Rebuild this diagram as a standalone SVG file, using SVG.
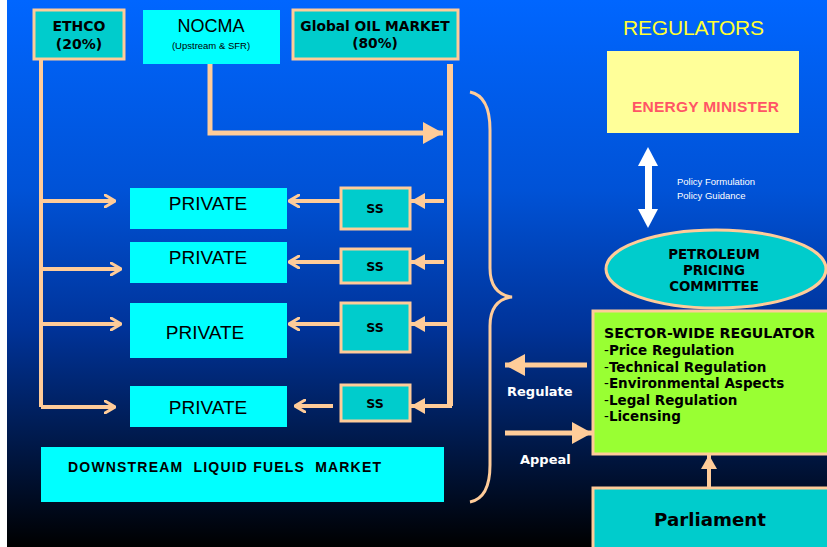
<svg xmlns="http://www.w3.org/2000/svg" width="827" height="547" viewBox="0 0 827 547">
<defs>
<linearGradient id="bg" x1="0" y1="0" x2="0" y2="1">
<stop offset="0" stop-color="#0066ff"/>
<stop offset="0.35" stop-color="#0052d6"/>
<stop offset="0.6" stop-color="#003399"/>
<stop offset="0.8" stop-color="#001a4d"/>
<stop offset="1" stop-color="#000000"/>
</linearGradient>
<marker id="open" viewBox="0 0 12 14" refX="11" refY="7" markerWidth="12" markerHeight="14" markerUnits="userSpaceOnUse" orient="auto">
<path d="M1,1 L11,7 L1,13" fill="none" stroke="#ffcc99" stroke-width="3" stroke-linecap="round"/>
</marker>
<marker id="fill" viewBox="0 0 14 16" refX="14" refY="8" markerWidth="14" markerHeight="16" markerUnits="userSpaceOnUse" orient="auto">
<path d="M0,0 L14,8 L0,16 Z" fill="#ffcc99"/>
</marker>
<marker id="big" viewBox="0 0 20 22" refX="20" refY="11" markerWidth="20" markerHeight="22" markerUnits="userSpaceOnUse" orient="auto">
<path d="M0,0 L20,11 L0,22 Z" fill="#ffcc99"/>
</marker>
</defs>
<style>
.pe{fill:#00cccc;stroke:#ffcc99;stroke-width:3}
.cy{fill:#00ffff}
.t{font-family:"DejaVu Sans",Verdana,sans-serif;font-weight:bold;fill:#000}
.a{font-family:"Liberation Sans",Arial,sans-serif;fill:#000}
.ln{fill:none;stroke:#ffcc99;stroke-width:4}
.wh{font-family:"DejaVu Sans",Verdana,sans-serif;font-weight:bold;fill:#fff;font-size:13px}
</style>
<rect x="0" y="0" width="827" height="547" fill="#ffffff"/>
<rect x="7" y="0" width="820" height="547" fill="url(#bg)"/>

<g id="connectors">
<path class="ln" d="M41,59 V407"/>
<path class="ln" d="M41,201 H115" marker-end="url(#open)"/>
<path class="ln" d="M41,269 H121" marker-end="url(#open)"/>
<path class="ln" d="M41,324 H121" marker-end="url(#open)"/>
<path class="ln" d="M41,407 H115" marker-end="url(#open)"/>
<path class="ln" d="M340,201 H289" marker-end="url(#open)"/>
<path class="ln" d="M340,262 H289" marker-end="url(#open)"/>
<path class="ln" d="M340,324 H289" marker-end="url(#open)"/>
<path class="ln" d="M333,406 H295" marker-end="url(#open)"/>
<path d="M450,64 V406" fill="none" stroke="#ffcc99" stroke-width="6"/>
<path class="ln" d="M444,201 H411" marker-end="url(#fill)"/>
<path class="ln" d="M444,262 H411" marker-end="url(#fill)"/>
<path class="ln" d="M450,324 H411" marker-end="url(#fill)"/>
<path class="ln" d="M452,406 H411" marker-end="url(#fill)"/>
<path d="M210,64 V133 H443" fill="none" stroke="#ffcc99" stroke-width="5" marker-end="url(#big)"/>
<path d="M470,92 Q490,96 490,130 V268 Q490,294 512,297 Q490,300 490,326 V465 Q490,498 470,502" fill="none" stroke="#ffcc99" stroke-width="3"/>
<path d="M587,365 H505" fill="none" stroke="#ffcc99" stroke-width="5" marker-end="url(#big)"/>
<path d="M505,433 H592" fill="none" stroke="#ffcc99" stroke-width="5" marker-end="url(#big)"/>
<path d="M709,487 V455" fill="none" stroke="#ffcc99" stroke-width="4" marker-end="url(#fill)"/>
<g fill="#ffffff">
<rect x="645" y="164" width="7" height="48"/>
<path d="M638,166 L648,147 L658,166 Z"/>
<path d="M638,209 L648,228 L658,209 Z"/>
</g>
</g>

<g id="ethco">
<rect class="pe" x="34" y="10" width="90" height="49"/>
<text class="t" font-size="14" text-anchor="middle" x="79" y="31">ETHCO</text>
<text class="t" font-size="14" text-anchor="middle" x="79" y="49">(20%)</text>
</g>
<g id="nocma">
<rect class="cy" x="143" y="10" width="137" height="54"/>
<text class="a" font-size="18" text-anchor="middle" x="211" y="32">NOCMA</text>
<text class="a" font-size="9.5" text-anchor="middle" x="211" y="49">(Upstream &amp; SFR)</text>
</g>
<g id="global">
<rect class="pe" x="293" y="10" width="165" height="49"/>
<text class="t" font-size="13.8" text-anchor="middle" x="375" y="31">Global OIL MARKET</text>
<text class="t" font-size="13.8" text-anchor="middle" x="375" y="48">(80%)</text>
</g>

<g id="private1"><rect class="cy" x="130" y="188" width="157" height="41"/><text class="a" font-size="19" text-anchor="middle" x="208" y="210">PRIVATE</text></g>
<g id="private2"><rect class="cy" x="130" y="242" width="157" height="41"/><text class="a" font-size="19" text-anchor="middle" x="208" y="264">PRIVATE</text></g>
<g id="private3"><rect class="cy" x="130" y="303" width="157" height="55"/><text class="a" font-size="19" text-anchor="middle" x="205" y="339">PRIVATE</text></g>
<g id="private4"><rect class="cy" x="130" y="386" width="157" height="41"/><text class="a" font-size="19" text-anchor="middle" x="208" y="414">PRIVATE</text></g>

<g id="ss1"><rect class="pe" x="341" y="188" width="69" height="41"/><text class="t" font-size="12.5" text-anchor="middle" x="375" y="213">SS</text></g>
<g id="ss2"><rect class="pe" x="341" y="249" width="69" height="34"/><text class="t" font-size="12.5" text-anchor="middle" x="375" y="271">SS</text></g>
<g id="ss3"><rect class="pe" x="341" y="303" width="69" height="49"/><text class="t" font-size="12.5" text-anchor="middle" x="375" y="332">SS</text></g>
<g id="ss4"><rect class="pe" x="341" y="385" width="69" height="36"/><text class="t" font-size="12.5" text-anchor="middle" x="375" y="408">SS</text></g>

<g id="downstream">
<rect class="cy" x="41" y="447" width="403" height="55"/>
<text font-family="Liberation Sans,Arial,sans-serif" font-weight="bold" font-size="14" x="68" y="472" textLength="313" style="white-space:pre">DOWNSTREAM  LIQUID FUELS  MARKET</text>
</g>

<g id="regulators-title">
<text x="623" y="35" font-family="'Liberation Sans',Arial,sans-serif" font-size="21" fill="#ffff33" textLength="141">REGULATORS</text>
</g>
<g id="energy-minister">
<rect x="607" y="51" width="192" height="82" fill="#ffff99"/>
<text x="632" y="112" font-family="'Liberation Sans',Arial,sans-serif" font-weight="bold" font-size="15.5" fill="#ff5566" textLength="147">ENERGY MINISTER</text>
</g>
<g id="policy-label">
<text x="677" y="185" font-family="'Liberation Sans',Arial,sans-serif" font-size="9.5" fill="#ffffff">Policy Formulation</text>
<text x="677" y="199" font-family="'Liberation Sans',Arial,sans-serif" font-size="9.5" fill="#ffffff">Policy Guidance</text>
</g>
<g id="ppc">
<ellipse class="pe" cx="716" cy="269" rx="110" ry="39"/>
<text class="t" font-size="13.4" text-anchor="middle" x="714" y="259">PETROLEUM</text>
<text class="t" font-size="13.4" text-anchor="middle" x="714" y="275">PRICING</text>
<text class="t" font-size="13.4" text-anchor="middle" x="714" y="291">COMMITTEE</text>
</g>
<g id="sector-regulator">
<rect x="593" y="311" width="240" height="143" fill="#99ff33" stroke="#ffcc99" stroke-width="3"/>
<text class="t" font-size="14.2" x="604" y="338">SECTOR-WIDE REGULATOR</text>
<text class="t" font-size="13.5" x="604" y="355"><tspan font-weight="normal">-</tspan>Price Regulation</text>
<text class="t" font-size="13.5" x="604" y="372"><tspan font-weight="normal">-</tspan>Technical Regulation</text>
<text class="t" font-size="13.5" x="604" y="388"><tspan font-weight="normal">-</tspan>Environmental Aspects</text>
<text class="t" font-size="13.5" x="604" y="405"><tspan font-weight="normal">-</tspan>Legal Regulation</text>
<text class="t" font-size="13.5" x="604" y="421"><tspan font-weight="normal">-</tspan>Licensing</text>
</g>
<g id="labels">
<text class="wh" x="507" y="396">Regulate</text>
<text class="wh" x="520" y="464">Appeal</text>
</g>
<g id="parliament">
<rect class="pe" x="593" y="488" width="240" height="70"/>
<text class="t" font-size="18.2" text-anchor="middle" x="710" y="526">Parliament</text>
</g>
</svg>
